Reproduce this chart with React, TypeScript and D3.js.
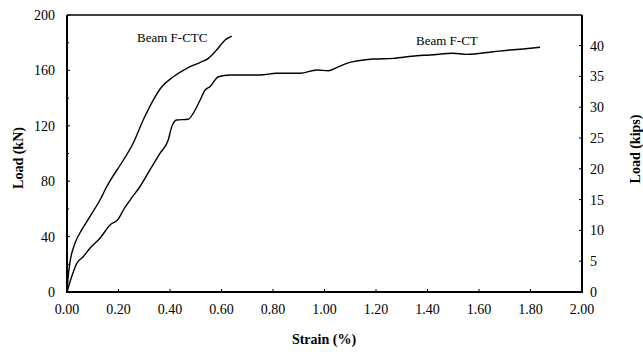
import React from "react";
import * as d3 from "d3";

const ctcStrain = [0, 0.004, 0.012, 0.031, 0.057, 0.089, 0.128, 0.154, 0.219, 0.257, 0.296, 0.335, 0.368, 0.413, 0.465, 0.52, 0.549, 0.581, 0.614, 0.64];
const ctcLoad = [0, 10, 21.9, 35.2, 44.8, 54.4, 66.4, 76, 95.3, 107.4, 124.2, 138.6, 148.2, 155.4, 161.5, 166, 168.7, 174.7, 182, 184.8];

const ctStrain = [0, 0.018, 0.038, 0.063, 0.089, 0.128, 0.167, 0.199, 0.219, 0.245, 0.283, 0.322, 0.361, 0.393, 0.407, 0.426, 0.471, 0.49, 0.517, 0.536, 0.555, 0.588, 0.633, 0.75, 0.814, 0.905, 0.97, 1.015, 1.047, 1.086, 1.19, 1.267, 1.358, 1.41, 1.5, 1.552, 1.656, 1.72, 1.772, 1.837];
const ctLoad = [0, 11, 20.7, 25.5, 31.6, 38.8, 48.4, 52.6, 59.2, 66.4, 76, 88.1, 100.1, 109.7, 119.4, 124.2, 124.7, 129, 138.6, 145.8, 148.2, 155.4, 156.7, 156.7, 157.9, 157.9, 160.3, 159.8, 162, 165.1, 168.2, 168.7, 170.6, 171.1, 172.4, 171.6, 173.5, 174.7, 175.5, 176.7];

const xTicks = [0, 0.2, 0.4, 0.6, 0.8, 1.0, 1.2, 1.4, 1.6, 1.8, 2.0];
const yTicks = [0, 40, 80, 120, 160, 200];
const yMinorTicks = [20, 60, 100, 140, 180];
const kipTicks = [0, 5, 10, 15, 20, 25, 30, 35, 40];

const KN_PER_KIP = 4.448;

export default function App() {
  const left = 67, right = 582, top = 15, bottom = 292;
  const x = d3.scaleLinear().domain([0, 2]).range([left, right]);
  const y = d3.scaleLinear().domain([0, 200]).range([bottom, top]);
  const yk = d3.scaleLinear().domain([0, 200 / KN_PER_KIP]).range([bottom, top]);

  const line = d3.line<[number, number]>().x(d => x(d[0])).y(d => y(d[1])).curve(d3.curveMonotoneX);
  const ctcPath = line(ctcStrain.map((s, i) => [s, ctcLoad[i]]) as [number, number][]) || "";
  const ctPath = line(ctStrain.map((s, i) => [s, ctLoad[i]]) as [number, number][]) || "";

  const ts: React.CSSProperties = { fontFamily: "'Liberation Serif', 'DejaVu Serif', serif" };

  return (
    <svg width={643} height={352} style={{ position: "absolute", left: 0, top: 0, background: "#fff" }}>
      {/* frame */}
      <line x1={left} x2={right} y1={top} y2={top} stroke="#000" strokeWidth={1.3} />
      <line x1={left} x2={left} y1={top} y2={bottom + 1} stroke="#000" strokeWidth={2} />
      <line x1={left - 1} x2={right + 1} y1={bottom} y2={bottom} stroke="#000" strokeWidth={2} />
      <line x1={right} x2={right} y1={top} y2={bottom + 1} stroke="#000" strokeWidth={2} />

      {/* x ticks */}
      {xTicks.map(t => (
        <g key={"x" + t}>
          <line x1={x(t)} x2={x(t)} y1={bottom} y2={bottom - 3} stroke="#000" strokeWidth={1} />
          <text x={x(t)} y={314} fontSize={14} textAnchor="middle" style={ts}>{t.toFixed(2)}</text>
        </g>
      ))}

      {/* left y ticks */}
      {yTicks.map(t => (
        <g key={"y" + t}>
          <line x1={left} x2={left + 3} y1={y(t)} y2={y(t)} stroke="#000" strokeWidth={1} />
          <text x={55} y={y(t) + 5} fontSize={14} textAnchor="end" style={ts}>{t}</text>
        </g>
      ))}
      {yMinorTicks.map(t => (
        <line key={"ym" + t} x1={left} x2={left + 2} y1={y(t)} y2={y(t)} stroke="#000" strokeWidth={1} />
      ))}

      {/* right kips ticks */}
      {kipTicks.map(t => (
        <g key={"k" + t}>
          <line x1={right} x2={right - 3} y1={yk(t)} y2={yk(t)} stroke="#000" strokeWidth={1} />
          <text x={590} y={yk(t) + 5} fontSize={14} textAnchor="start" style={ts}>{t}</text>
        </g>
      ))}

      {/* curves */}
      <path d={ctcPath} fill="none" stroke="#000" strokeWidth={1.4} />
      <path d={ctPath} fill="none" stroke="#000" strokeWidth={1.4} />

      {/* annotations */}
      <text x={137} y={42} fontSize={13} style={ts}>Beam F-CTC</text>
      <text x={416} y={45} fontSize={13} style={ts}>Beam F-CT</text>

      {/* axis titles */}
      <text x={324} y={344} fontSize={14} fontWeight="bold" textAnchor="middle" style={ts}>Strain (%)</text>
      <text transform="translate(23,158) rotate(-90)" fontSize={14} fontWeight="bold" textAnchor="middle" style={ts}>Load (kN)</text>
      <text transform="translate(640,149) rotate(-90)" fontSize={14} fontWeight="bold" textAnchor="middle" style={ts}>Load (kips)</text>
    </svg>
  );
}
